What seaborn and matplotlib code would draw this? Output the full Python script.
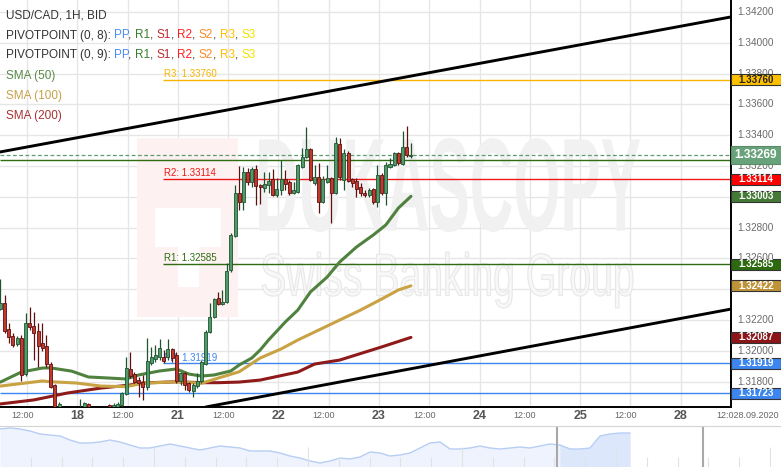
import numpy as np
import pandas as pd
import matplotlib
matplotlib.use("Agg")
import matplotlib.pyplot as plt
import seaborn as sns
from matplotlib.patches import Rectangle, PathPatch
from matplotlib.textpath import TextPath
from matplotlib.font_manager import FontProperties
from matplotlib.transforms import Affine2D

sns.set_style("white")
plt.rcParams["font.family"] = ["Liberation Sans", "DejaVu Sans"]

# USD/CAD 1H candles, Sep 17 06:00 -> Sep 23 08:00 (weekend hours skipped)
opens = [1.32271, 1.32310, 1.32142, 1.32096, 1.32044, 1.32083, 1.31849, 1.32180, 1.32161, 1.32129,
         1.32051, 1.32031, 1.31914, 1.31778, 1.31600, 1.31620, 1.31560, 1.31590, 1.31545, 1.31510,
         1.31590, 1.31655, 1.31580, 1.31600, 1.31575, 1.31560, 1.31648, 1.31600, 1.31630, 1.31648,
         1.31719, 1.31882, 1.31849, 1.31810, 1.31797, 1.31765, 1.31921, 1.31947, 1.31960, 1.31960,
         1.31960, 1.32012, 1.31973, 1.31804, 1.31856, 1.31791, 1.31739, 1.31771, 1.31804, 1.31914,
         1.32122, 1.32219, 1.32343, 1.32304, 1.32317, 1.32525, 1.32745, 1.33025, 1.32966, 1.33161,
         1.33096, 1.33180, 1.33077, 1.33057, 1.33077, 1.33116, 1.33012, 1.33044, 1.33116, 1.33096,
         1.33025, 1.33031, 1.33193, 1.33258, 1.33310, 1.33090, 1.33129, 1.32966, 1.33096, 1.33122,
         1.33025, 1.33343, 1.33109, 1.33284, 1.33116, 1.33103, 1.33064, 1.33025, 1.33012, 1.33051,
         1.32966, 1.33142, 1.33025, 1.33193, 1.33206, 1.33284, 1.33213, 1.33323, 1.33265]
highs = [1.32466, 1.32362, 1.32180, 1.32116, 1.32096, 1.32103, 1.32245, 1.32284, 1.32252, 1.32180,
         1.32180, 1.32103, 1.31927, 1.31784, 1.31668, 1.31630, 1.31610, 1.31620, 1.31580, 1.31687,
         1.31668, 1.31661, 1.31620, 1.31625, 1.31610, 1.31630, 1.31655, 1.31661, 1.31668, 1.31732,
         1.31960, 1.31992, 1.31862, 1.31830, 1.31843, 1.32083, 1.32025, 1.32038, 1.32077, 1.32005,
         1.32077, 1.32018, 1.31992, 1.31862, 1.31862, 1.31797, 1.31791, 1.31856, 1.31940, 1.32135,
         1.32310, 1.32343, 1.32382, 1.32395, 1.32570, 1.32765, 1.33077, 1.33200, 1.33193, 1.33187,
         1.33193, 1.33206, 1.33083, 1.33161, 1.33161, 1.33180, 1.33122, 1.33239, 1.33174, 1.33109,
         1.33096, 1.33210, 1.33317, 1.33453, 1.33317, 1.33206, 1.33219, 1.33135, 1.33206, 1.33129,
         1.33388, 1.33382, 1.33310, 1.33297, 1.33122, 1.33122, 1.33090, 1.33044, 1.33057, 1.33057,
         1.33206, 1.33155, 1.33226, 1.33252, 1.33291, 1.33291, 1.33427, 1.33460, 1.33349]
lows = [1.32265, 1.32116, 1.32051, 1.32025, 1.32031, 1.31804, 1.31836, 1.32135, 1.31940, 1.31895,
        1.31999, 1.31895, 1.31758, 1.31590, 1.31564, 1.31540, 1.31530, 1.31520, 1.31480, 1.31490,
        1.31570, 1.31560, 1.31550, 1.31560, 1.31540, 1.31545, 1.31580, 1.31580, 1.31610, 1.31635,
        1.31713, 1.31823, 1.31791, 1.31700, 1.31681, 1.31745, 1.31908, 1.31927, 1.31940, 1.31921,
        1.31940, 1.31927, 1.31791, 1.31778, 1.31745, 1.31732, 1.31700, 1.31758, 1.31791, 1.31908,
        1.32116, 1.32213, 1.32297, 1.32297, 1.32310, 1.32512, 1.32739, 1.32914, 1.32914, 1.33077,
        1.33064, 1.32947, 1.32953, 1.33031, 1.33025, 1.33005, 1.32999, 1.33012, 1.33044, 1.33012,
        1.33018, 1.33025, 1.33187, 1.33252, 1.33103, 1.33077, 1.32895, 1.32960, 1.33090, 1.32830,
        1.33018, 1.33109, 1.33044, 1.33096, 1.33064, 1.32999, 1.33005, 1.32999, 1.32999, 1.32953,
        1.32934, 1.33012, 1.32947, 1.33187, 1.33200, 1.33206, 1.33206, 1.33258, 1.33252]
closes = [1.32310, 1.32129, 1.32090, 1.32038, 1.32083, 1.31843, 1.32180, 1.32154, 1.32116, 1.32031,
          1.32018, 1.31914, 1.31765, 1.31616, 1.31655, 1.31560, 1.31590, 1.31545, 1.31510, 1.31600,
          1.31661, 1.31580, 1.31600, 1.31575, 1.31560, 1.31620, 1.31600, 1.31648, 1.31655, 1.31726,
          1.31888, 1.31836, 1.31797, 1.31791, 1.31765, 1.31934, 1.31960, 1.31973, 1.32018, 1.31934,
          1.32012, 1.31953, 1.31804, 1.31856, 1.31778, 1.31745, 1.31778, 1.31804, 1.31927, 1.32122,
          1.32219, 1.32336, 1.32304, 1.32317, 1.32518, 1.32752, 1.33025, 1.32966, 1.33161, 1.33096,
          1.33180, 1.33070, 1.33064, 1.33083, 1.33103, 1.33012, 1.33051, 1.33116, 1.33083, 1.33025,
          1.33044, 1.33206, 1.33258, 1.33310, 1.33109, 1.33129, 1.32966, 1.33116, 1.33122, 1.33025,
          1.33349, 1.33129, 1.33284, 1.33103, 1.33090, 1.33051, 1.33025, 1.33012, 1.33044, 1.32966,
          1.33142, 1.33025, 1.33206, 1.33213, 1.33284, 1.33219, 1.33323, 1.33271, 1.33269]

# moving averages (candle index, price)
sma50_x = [0, 5, 10, 12, 17, 21, 26, 30, 33, 38, 42, 45, 48, 51, 55, 57, 60, 62, 64, 68, 71, 74, 78, 81, 85, 89, 92, 95, 98]
sma50 = [1.31797, 1.31862, 1.31888, 1.31889, 1.31868, 1.31830, 1.31823, 1.31817, 1.31843, 1.31869,
         1.31882, 1.31849, 1.31836, 1.31843, 1.31869, 1.31908, 1.31953, 1.32005, 1.32070, 1.32187,
         1.32265, 1.32382, 1.32479, 1.32577, 1.32674, 1.32752, 1.32817, 1.32927, 1.33003]
sma100_x = [0, 10, 12, 18, 24, 30, 34, 42, 48, 52, 57, 62, 67, 71, 76, 81, 86, 91, 95, 98]
sma100 = [1.31771, 1.31804, 1.31799, 1.31791, 1.31771, 1.31767, 1.31789, 1.31799, 1.31789, 1.31823,
          1.31864, 1.31953, 1.32012, 1.32070, 1.32135, 1.32200, 1.32265, 1.32336, 1.32395, 1.32422]
sma200_x = [0, 8, 16, 24, 31, 34, 42, 48, 52, 57, 62, 71, 75, 81, 91, 98]
sma200 = [1.31655, 1.31681, 1.31726, 1.31758, 1.31778, 1.31791, 1.31799, 1.31793, 1.31793, 1.31797,
          1.31810, 1.31862, 1.31914, 1.31940, 1.32025, 1.32087]

# trend channel anchors
upper_x = [-0.1, 174.4]
upper_y = [1.33291, 1.34168]
lower_x = [49.0, 174.4]
lower_y = [1.31635, 1.32271]

# pivot levels
pivot8_names = ["R3", "R2", "R1", "PP"]
pivot8_vals = [1.33760, 1.33114, 1.32562, 1.31919]
pivot8_text = ["1.33760", "1.33114", "1.32585", "1.31919"]
pivot8_colors = ["#f7b500", "#f01818", "#2f6b12", "#3d86f0"]
pivot9_vals = [1.33242, 1.31723]
pivot9_colors = ["#2f6b12", "#3d86f0"]
last_price = 1.33269

# price tags on the right axis
tag_vals = [1.33760, 1.33114, 1.33003, 1.32562, 1.32422, 1.32087, 1.31919, 1.31723]
tag_text = ["1.33760", "1.33114", "1.33003", "1.32585", "1.32422", "1.32087", "1.31919", "1.31723"]
tag_face = ["#ffc000", "#ff0000", "#457a36", "#2d6a0f", "#bf9438", "#8b1518", "#3d86f0", "#3d86f0"]
tag_ink = ["#222222", "white", "white", "white", "white", "white", "white", "white"]

price_ticks = [1.342, 1.340, 1.338, 1.336, 1.334, 1.332, 1.330, 1.328, 1.326, 1.324, 1.322, 1.320, 1.318]
time_labels = ["12:00", "18", "12:00", "21", "12:00", "22", "12:00", "23",
               "12:00", "24", "12:00", "25", "12:00", "28"]

# navigator (longer history)
nav_close = [1.376, 1.378, 1.376, 1.372, 1.366, 1.364, 1.362, 1.354, 1.348, 1.348,
             1.350, 1.354, 1.350, 1.344, 1.338, 1.338, 1.342, 1.346, 1.342, 1.338,
             1.334, 1.338, 1.342, 1.340, 1.338, 1.332, 1.332, 1.332, 1.328, 1.322,
             1.318, 1.312, 1.308, 1.312, 1.318, 1.316, 1.320, 1.330, 1.328, 1.322,
             1.324, 1.328, 1.338, 1.348, 1.350, 1.336, 1.336, 1.338, 1.342, 1.338,
             1.336, 1.338, 1.340, 1.338, 1.342, 1.346, 1.344, 1.336, 1.336, 1.338,
             1.362, 1.366, 1.368, 1.368]

W, H = 781, 467
fig = plt.figure(figsize=(W / 100, H / 100), dpi=100)
ax = fig.add_axes([0, 60 / H, 731 / W, 407 / H])
ax.set_xlim(-0.1, 174.4)
ax.set_ylim(1.316351, 1.342779)

tick_x = 6.38 + 12 * np.arange(15)
ax.set_xticks(tick_x)
ax.set_yticks(price_ticks)
ax.grid(True, color="#e6e6e6", lw=1)
ax.tick_params(length=0, labelleft=False, labelbottom=False)
for s in ["top", "left"]:
    ax.spines[s].set_visible(False)
ax.spines["right"].set_color("black")
ax.spines["right"].set_linewidth(1.4)
ax.spines["bottom"].set_color("black")
ax.spines["bottom"].set_linewidth(1.4)


def text_patch(s, x0, y0, x1, y1, face, edge, weight="bold"):
    # squeeze a text outline into a pixel box (watermark)
    tp = TextPath((0, 0), s, size=100, prop=FontProperties(family="Liberation Sans", weight=weight))
    bb = tp.get_extents()
    tr = Affine2D().translate(-bb.x0, -bb.y0).scale((x1 - x0) / bb.width, (y1 - y0) / bb.height)
    tr = tr.translate(x0, H - y1)
    p = PathPatch(tp, transform=tr, facecolor=face, edgecolor=edge, lw=0.8, zorder=0.8)
    ax.add_patch(p)


# watermark
ax.add_patch(Rectangle((137, H - 317), 101, 179, transform=Affine2D(), facecolor="#fdf1f1",
                       edgecolor="none", zorder=0.7))
ax.add_patch(Rectangle((155, H - 247), 66, 39, transform=Affine2D(), facecolor="white",
                       edgecolor="none", zorder=0.75))
ax.add_patch(Rectangle((178, H - 287), 21, 40, transform=Affine2D(), facecolor="white",
                       edgecolor="none", zorder=0.75))
text_patch("DUKASCOPY", 259, 138, 640, 232, "#f1f1f1", "none")
text_patch("Swiss Banking Group", 262, 252, 633, 308, "#f8f8f8", "#e8e8e8", weight="normal")

# pivot lines
for name, v, txt, c in zip(pivot8_names, pivot8_vals, pivot8_text, pivot8_colors):
    ax.hlines(v, 38.8, 174.4, color=c, lw=1, zorder=2)
    ax.text(39.0, v + 0.00005, f"{name}: {txt}", color=c, fontsize=7, ha="left", va="bottom", zorder=2)
for v, c in zip(pivot9_vals, pivot9_colors):
    ax.hlines(v, -0.1, 174.4, color=c, lw=1, zorder=2)
ax.hlines(last_price, -0.1, 174.4, color="#5f9a72", lw=0.9, linestyles=(0, (3, 2)), zorder=2)

# moving averages
sns.lineplot(x=sma200_x, y=sma200, ax=ax, color="#8e1a1a", lw=2.2, zorder=3)
sns.lineplot(x=sma100_x, y=sma100, ax=ax, color="#c9a243", lw=2.2, zorder=3)
sns.lineplot(x=sma50_x, y=sma50, ax=ax, color="#4f823e", lw=2.2, zorder=3)

# trend channel
sns.lineplot(x=upper_x, y=upper_y, ax=ax, color="black", lw=2.1, zorder=3.5)
sns.lineplot(x=lower_x, y=lower_y, ax=ax, color="black", lw=2.1, zorder=3.5)

# candles
df = pd.DataFrame({"open": opens, "high": highs, "low": lows, "close": closes})
df["x"] = np.arange(len(df))
up = df["close"] >= df["open"]
for mask, body, edge in [(up, "#519b6b", "#1e5330"), (~up, "#c0392b", "#5e1010")]:
    d = df[mask]
    ax.vlines(d["x"], d["low"], d["high"], color=edge, lw=0.9, zorder=4)
    lo = np.minimum(d["open"], d["close"])
    hgt = np.maximum((d["close"] - d["open"]).abs(), 0.00007)
    ax.bar(d["x"], hgt, bottom=lo, width=0.72, color=body, edgecolor=edge, lw=0.6, zorder=4.2)

ax.set_xlim(-0.1, 174.4)
ax.set_ylim(1.316351, 1.342779)

# right axis labels (those fully under a tag are not drawn, as in the source)
ytr = ax.get_yaxis_transform()
th = 11 / 15400
for v in price_ticks:
    if any(abs(v - t) < 0.00025 for t in tag_vals):
        continue
    ax.text(1.0082, v, f"{v:.5f}", transform=ytr, fontsize=7.2, color="#6a6a6a",
            ha="left", va="center", clip_on=False, zorder=8)
for v, t, fc, ic in zip(tag_vals, tag_text, tag_face, tag_ink):
    ax.add_patch(Rectangle((1.0, v - th / 2), 0.0684, th, transform=ytr, facecolor=fc,
                           edgecolor="#333333", lw=0.8, clip_on=False, zorder=10))
    ax.text(1.0342, v, t, transform=ytr, fontsize=7, color=ic, fontweight="bold",
            ha="center", va="center", clip_on=False, zorder=11)
th2 = 18 / 15400
ax.add_patch(Rectangle((1.0, last_price - th2 / 2), 0.0684, th2, transform=ytr, facecolor="#68a27a",
                       edgecolor="#5a8a68", lw=0.8, clip_on=False, zorder=10))
ax.text(1.0342, last_price, f"{last_price:.5f}", transform=ytr, fontsize=8.6, color="white",
        fontweight="bold", ha="center", va="center", clip_on=False, zorder=11)

# time labels
xtr = ax.get_xaxis_transform()
for x, lab in zip(tick_x, time_labels):
    if lab == "12:00":
        ax.text(x - 1.2, -0.022, lab, transform=xtr, fontsize=6.5, color="#666666",
                ha="center", va="center", clip_on=False)
    else:
        ax.text(x, -0.022, lab, transform=xtr, fontsize=9, fontweight="bold", color="#555555",
                ha="center", va="center", clip_on=False)
fig.text(716 / W, 1 - 416 / H, "12:028.09.2020", fontsize=6.5, color="#666666", ha="left", va="center")

# header legend, coloured word by word
rend = fig.canvas.get_renderer()


def ink_width(s, size):
    t = fig.text(0, 0, s, fontsize=size)
    w = t.get_window_extent(renderer=rend).width
    t.remove()
    return w


def colored_line(y_px, parts, size=8.5):
    full = ""
    for s, c in parts:
        full += s
        x = 6 + ink_width(full, size) - ink_width(s.strip(), size)
        fig.text(x / W, 1 - y_px / H, s.strip(), color=c, fontsize=size, ha="left", va="center")


piv_cols = [("PP", "#4a8cf0"), ("R1", "#3a7d2a"), ("S1", "#bf2a30"), ("R2", "#ff2020"),
            ("S2", "#ff8a26"), ("R3", "#ffbf00"), ("S3", "#f2e200")]
colored_line(16, [("USD/CAD, 1H, BID", "#333333")])
for yy, lab in [(35.5, "PIVOTPOINT (0, 8):"), (55, "PIVOTPOINT (0, 9):")]:
    parts = [(lab, "#333333")]
    for k, (n, c) in enumerate(piv_cols):
        parts.append((" " + n, c))
        if k < len(piv_cols) - 1:
            parts.append((",", "#333333"))
    colored_line(yy, parts)
colored_line(76, [("SMA (50)", "#5a8a48")])
colored_line(96.5, [("SMA (100)", "#c8a04a")])
colored_line(116, [("SMA (200)", "#a83232")])

# navigator
nav = fig.add_axes([0, 0, 1, 41 / H])
nav.set_xlim(0, 78.1)
nav.set_ylim(1.300, 1.382)
nx = np.arange(len(nav_close))
nav.fill_between(nx, nav_close, 1.300, color="#eef3fd", lw=0)
sel = nx >= 55.7
nav.fill_between(nx[sel], np.array(nav_close)[sel], 1.300, color="#dce7fb", lw=0)
sns.lineplot(x=nx, y=nav_close, ax=nav, color="#b6cdf4", lw=1)
nav_ticks = 3.08 * np.arange(1, 26)
for k, tx in enumerate(nav_ticks):
    top = 1.3 + 0.020 * (1 if (k + 1) % 5 else 2)
    nav.vlines(tx, 1.300, top, color="#e2e2e2", lw=0.8)
nav.axvline(55.7, color="#a8a8a8", lw=1.5)
nav.axvline(70.3, color="#a8a8a8", lw=1.5)
nav.set_xticks([])
nav.set_yticks([])
nav.set_xlabel("")
nav.set_ylabel("")
for s in ["left", "right", "bottom"]:
    nav.spines[s].set_visible(False)
nav.spines["top"].set_color("#d4d4d4")
nav.set_facecolor("none")

ax.set_xlabel("")
ax.set_ylabel("")
fig.savefig("out.png", dpi=100)
